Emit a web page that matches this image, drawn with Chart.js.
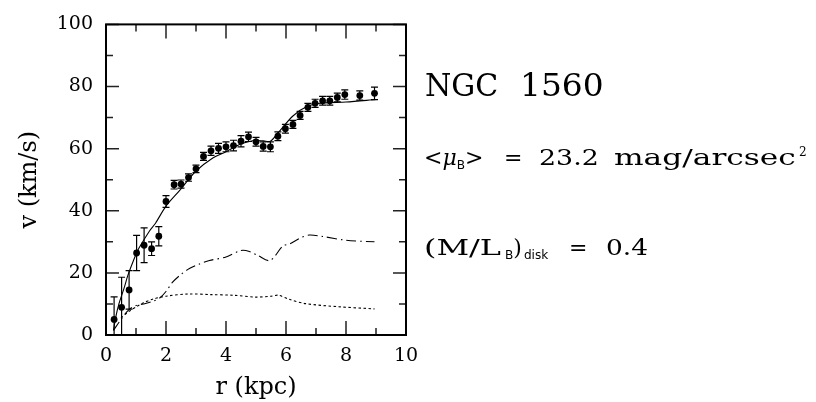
<!DOCTYPE html>
<html><head><meta charset="utf-8">
<script src="https://cdn.jsdelivr.net/npm/chart.js@4/dist/chart.umd.min.js"></script>
<style>
html,body{margin:0;padding:0;background:#fff;}
#wrap{position:relative;width:816px;height:402px;overflow:hidden;}
canvas{position:absolute;left:0;top:0;}
.t{position:absolute;font-family:"DejaVu Serif";color:#000;white-space:nowrap;line-height:1;transform-origin:0 0;}
.sb{font-family:"DejaVu Sans";font-size:0.55em;position:relative;top:0.35em;}
.sp{font-size:0.55em;position:relative;top:-0.75em;}
</style></head><body>
<div id="wrap"><canvas id="c" width="816" height="402"></canvas>
<div class="t" style="left:425px;top:70px;font-size:31px;transform:scaleX(0.97);">NGC</div>
<div class="t" style="left:520px;top:70px;font-size:31px;transform:scaleX(1.06);">1560</div>
<div class="t" style="left:424px;top:147px;font-size:22px;">&lt;<i>μ</i><span class="sb">B</span>&gt;</div>
<div class="t" style="left:504px;top:147px;font-size:22px;">=</div>
<div class="t" style="left:539px;top:147px;font-size:22px;transform:scaleX(1.22);">23.2</div>
<div class="t" style="left:614px;top:147px;font-size:22px;transform:scaleX(1.42);">mag/arcsec</div>
<div class="t" style="left:799px;top:147px;font-size:22px;"><span class="sp">2</span></div>
<div class="t" style="left:424px;top:237px;font-size:22px;transform:scaleX(1.45);">(M/L</div>
<div class="t" style="left:505px;top:237px;font-size:22px;"><span class="sb">B</span>)<span class="sb" style="margin-left:2px">disk</span></div>
<div class="t" style="left:569px;top:237px;font-size:22px;">=</div>
<div class="t" style="left:606px;top:237px;font-size:22px;transform:scaleX(1.2);">0.4</div>
</div>
<script>
// observed rotation curve
const radius   = [0.27,0.52,0.77,1.02,1.27,1.52,1.76,2.0,2.27,2.5,2.75,3.0,3.25,3.5,3.75,4.0,4.25,4.5,4.75,5.0,5.24,5.48,5.73,5.98,6.23,6.47,6.73,6.97,7.22,7.46,7.71,7.96,8.46,8.95];
const velocity = [5.0,8.9,14.5,26.4,28.9,27.8,31.8,43.0,48.4,48.6,50.7,53.5,57.5,59.3,60.1,60.6,61.0,62.4,63.8,62.2,60.7,60.6,64.0,66.4,67.8,70.7,73.3,74.6,75.4,75.4,76.5,77.4,77.1,77.8];
const velocityErr = [7.3,9.7,6.2,5.7,5.6,2.2,3.1,1.9,1.4,1.3,1.2,1.2,1.3,1.5,1.6,1.6,1.7,1.8,1.5,1.4,1.5,1.6,1.4,1.4,1.3,1.3,1.3,1.3,1.4,1.4,1.4,1.5,1.5,2.0];
// total model (solid)
const modelR = [0.25,0.32,0.43,0.6,0.74,1.0,1.1,1.45,1.65,2.0,2.45,3.0,3.56,4.0,4.45,4.78,5.0,5.25,5.48,5.73,6.23,6.73,7.23,8.0,9.0];
const modelV = [1.5,5.5,10,15,19.5,26,28,33.5,36,41.5,46.5,52.8,57,59,61.3,62.3,62.6,62.5,62.4,65,70.5,73.7,74.7,75,75.8];
// stellar disk (dash-dot)
const diskR = [0.25,0.5,0.75,1.0,1.25,1.55,1.8,2.0,2.22,2.5,2.78,3.1,3.45,4.0,4.5,4.78,5.06,5.47,5.9,6.12,6.45,6.78,7.23,8.0,8.95];
const diskV = [1.5,5,8,9.5,10,10.8,12,14,17,19.5,21.4,22.8,24,25.1,27.2,26.9,25.6,24,28.7,29.3,31.1,32.2,31.7,30.5,30.0];
// gas (dotted)
const gasR = [0.5,0.75,1.0,1.25,1.55,2.0,2.75,3.5,4.25,5.0,5.5,5.75,6.1,6.65,7.75,8.95];
const gasV = [5.5,7.5,9,10.4,11.5,12.5,13.2,13,12.8,12.2,12.5,12.8,11.5,10.1,9.1,8.4];
// axes
const xTicks = [0,2,4,6,8,10];
const xMinor = [1,3,5,7,9];
const yTicks = [0,20,40,60,80,100];
const yMinor = [10,30,50,70,90];

const pts = (xs, ys) => xs.map((x, i) => ({x, y: ys[i]}));

const frame = {
  id: 'frame',
  afterDatasetsDraw(chart) {
    const {ctx, chartArea: a, scales: {x, y}} = chart;
    ctx.save();
    ctx.beginPath(); ctx.rect(a.left, a.top, a.right - a.left, a.bottom - a.top); ctx.clip();
    ctx.strokeStyle = '#000'; ctx.lineWidth = 1.2;
    radius.forEach((r, i) => {
      const px = x.getPixelForValue(r);
      const hi = y.getPixelForValue(velocity[i] + velocityErr[i]);
      const lo = y.getPixelForValue(velocity[i] - velocityErr[i]);
      ctx.beginPath();
      ctx.moveTo(px, hi); ctx.lineTo(px, lo);
      ctx.moveTo(px - 3.5, hi); ctx.lineTo(px + 3.5, hi);
      ctx.moveTo(px - 3.5, lo); ctx.lineTo(px + 3.5, lo);
      ctx.stroke();
    });
    ctx.restore();
  },
  afterDraw(chart) {
    const {ctx, chartArea: a, scales: {x, y}} = chart;
    ctx.save();
    ctx.strokeStyle = '#222'; ctx.lineWidth = 1.5;
    const tick = (vals, len, horiz) => vals.forEach(v => {
      ctx.beginPath();
      if (horiz) {
        const p = x.getPixelForValue(v);
        ctx.moveTo(p, a.bottom); ctx.lineTo(p, a.bottom - len);
        ctx.moveTo(p, a.top); ctx.lineTo(p, a.top + len);
      } else {
        const p = y.getPixelForValue(v);
        ctx.moveTo(a.left, p); ctx.lineTo(a.left + len, p);
        ctx.moveTo(a.right, p); ctx.lineTo(a.right - len, p);
      }
      ctx.stroke();
    });
    tick(xTicks, 14, true); tick(xMinor, 7, true);
    tick(yTicks, 13, false); tick(yMinor, 7, false);
    ctx.strokeStyle = '#000'; ctx.lineWidth = 2;
    ctx.strokeRect(a.left, a.top, a.right - a.left, a.bottom - a.top);
    ctx.restore();
  }
};

const tickFont = {family: 'DejaVu Serif', size: 19};
const titleFont = {family: 'DejaVu Serif', size: 24};

new Chart(document.getElementById('c'), {
  type: 'scatter',
  data: {
    datasets: [
      {data: pts(modelR, modelV), showLine: true, borderColor: '#000', borderWidth: 1.1, pointRadius: 0, tension: 0.3},
      {data: pts(diskR, diskV), showLine: true, borderColor: '#000', borderWidth: 1.1, pointRadius: 0, tension: 0.3, borderDash: [10, 4, 1.5, 4]},
      {data: pts(gasR, gasV), showLine: true, borderColor: '#000', borderWidth: 1.1, pointRadius: 0, tension: 0.3, borderDash: [2.5, 2.5]},
      {data: pts(radius, velocity), showLine: false, pointRadius: 3.4, pointBackgroundColor: '#000', pointBorderWidth: 0}
    ]
  },
  options: {
    responsive: false, animation: false, devicePixelRatio: 1,
    layout: {padding: {top: 16, right: 410, left: 0, bottom: 0}},
    plugins: {legend: {display: false}, tooltip: {enabled: false}},
    scales: {
      x: {
        type: 'linear', min: 0, max: 10,
        afterBuildTicks: s => { s.ticks = xTicks.map(v => ({value: v})); },
        afterFit: s => { s.height = 67; },
        grid: {display: false, drawTicks: false}, border: {display: false},
        ticks: {font: tickFont, color: '#000', padding: 10, maxRotation: 0},
        title: {display: true, text: 'r (kpc)', font: titleFont, color: '#000', padding: {top: 0, bottom: 0}}
      },
      y: {
        type: 'linear', min: 0, max: 100,
        afterBuildTicks: s => { s.ticks = yTicks.map(v => ({value: v})); },
        afterFit: s => { s.width = 106; },
        grid: {display: false, drawTicks: false}, border: {display: false},
        ticks: {font: tickFont, color: '#000', padding: 13},
        title: {display: true, text: 'v (km/s)', font: titleFont, color: '#000', padding: {top: 15, bottom: 0}}
      }
    }
  },
  plugins: [frame]
});
</script>
</body></html>
